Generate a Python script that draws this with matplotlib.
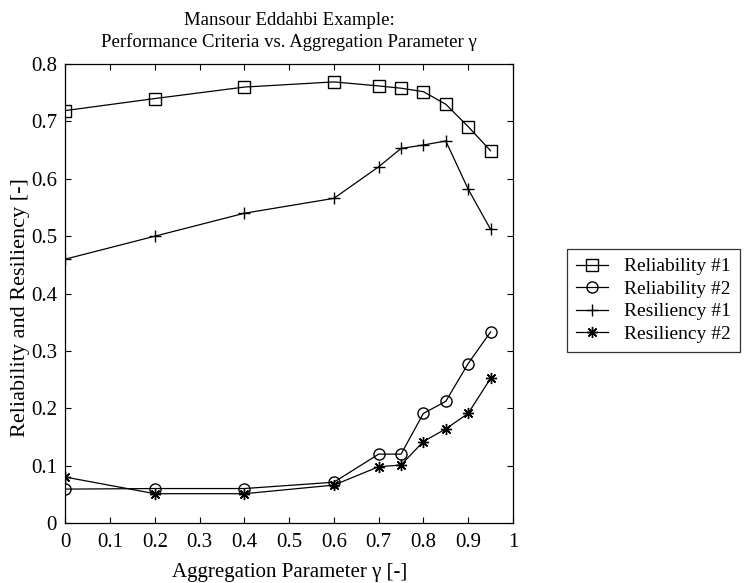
import matplotlib.pyplot as plt
import numpy as np

# Datos
gamma = [0, 0.2, 0.4, 0.6, 0.7, 0.75, 0.8, 0.85, 0.9, 0.95]
reliability_1 = [0.719, 0.740, 0.760, 0.769, 0.762, 0.758, 0.752, 0.730, 0.691, 0.649]
reliability_2 = [0.059, 0.060, 0.060, 0.071, 0.120, 0.120, 0.191, 0.212, 0.278, 0.333]
resiliency_1 = [0.460, 0.500, 0.540, 0.566, 0.621, 0.653, 0.659, 0.666, 0.582, 0.512]
resiliency_2 = [0.080, 0.051, 0.051, 0.066, 0.098, 0.101, 0.142, 0.164, 0.191, 0.252]

plt.rcParams['font.family'] = ['Liberation Serif', 'DejaVu Serif']
plt.rcParams['font.size'] = 15

fig = plt.figure(figsize=(7.51, 5.83), dpi=100)
ax = fig.add_axes([0.087, 0.103, 0.596, 0.787])

ax.plot(gamma, reliability_1, '-s', color='black', lw=0.9, ms=8, mfc='none', mew=1.0, label='Reliability #1')
ax.plot(gamma, reliability_2, '-o', color='black', lw=0.9, ms=8, mfc='none', mew=1.0, label='Reliability #2')
ax.plot(gamma, resiliency_1, '-+', color='black', lw=0.9, ms=9, mew=1.0, label='Resiliency #1')
ax.plot(gamma, resiliency_2, '-', marker=(8, 2, 0), color='black', lw=0.9, ms=8, mew=1.0, label='Resiliency #2')

ax.set_xlim(0, 1)
ax.set_ylim(0, 0.8)
ax.set_xticks(np.arange(0, 1.01, 0.1))
ax.set_xticklabels(['0', '0.1', '0.2', '0.3', '0.4', '0.5', '0.6', '0.7', '0.8', '0.9', '1'])
ax.set_yticks(np.arange(0, 0.81, 0.1))
ax.set_yticklabels(['0', '0.1', '0.2', '0.3', '0.4', '0.5', '0.6', '0.7', '0.8'])
ax.tick_params(direction='in', top=True, right=True, length=4, width=0.8, labelsize=15)
ax.tick_params(axis='x', pad=7)
ax.tick_params(axis='y', pad=6)
for s in ax.spines.values():
    s.set_linewidth(0.9)

ax.set_xlabel('Aggregation Parameter γ [-]', fontsize=15, labelpad=8)
ax.set_ylabel('Reliability and Resiliency [-]', fontsize=16)
ax.yaxis.set_label_coords(-0.080, 0.47)
ax.set_title('Mansour Eddahbi Example:\nPerformance Criteria vs. Aggregation Parameter γ', fontsize=13.5, pad=12, linespacing=1.3)

leg = ax.legend(loc='upper left', bbox_to_anchor=(1.121, 0.597), fancybox=False, edgecolor='black',
                fontsize=14, handlelength=1.65, handletextpad=0.85, borderpad=0.45, labelspacing=0.25,
                borderaxespad=0)
leg.get_frame().set_linewidth(0.9)

fig.savefig('out.png', dpi=100)
